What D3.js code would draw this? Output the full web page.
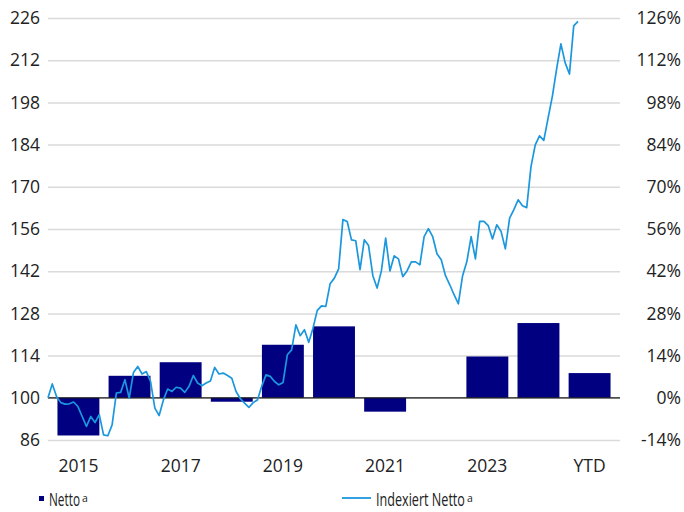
<!DOCTYPE html>
<html>
<head>
<meta charset="utf-8">
<script src="https://cdn.jsdelivr.net/npm/d3@7"></script>
<style>
  body { margin: 0; background: #fff; }
  svg { display: block; font-family: "Open Sans", sans-serif; }
</style>
</head>
<body>
<svg id="chart" width="684" height="512"></svg>
<script>
// yearly net return (%), right axis
const years = ["2015","2016","2017","2018","2019","2020","2021","2022","2023","2024","YTD"];
const nettoPct = [-12.5, 7.3, 11.8, -1.3, 17.6, 23.7, -4.6, 0, 13.7, 24.8, 8.2];
const tickYears = ["2015","2017","2019","2021","2023","YTD"];

// monthly indexed net value (start = 100), left axis
const indexiert = [
  100, 104.6, 100.4, 98.4, 97.9, 98, 98.6, 97.1, 93.8, 90.5, 93.8, 91.8,
  94.4, 87.7, 87.4, 91, 101.6, 101.8, 106, 99.9, 108.4, 110.4, 107.9, 108.7,
  105.4, 96.6, 94.1, 99.3, 102.9, 102.1, 103.5, 103.2, 101.8, 103.8, 107.4, 104.9,
  104, 104.9, 105.6, 110.1, 107.9, 108.2, 107.4, 106.5, 102.1, 99.7, 98.2, 96.8,
  98.4, 99.3, 103.8, 107.6, 107.1, 105.4, 104.3, 105.1, 114.3, 115.9, 124.2, 120.6,
  122.6, 118.4, 123.1, 129, 130.5, 130.3, 137.8, 139.7, 142.8, 159.1, 158.5, 152.4,
  152.1, 142.5, 152.4, 150.5, 140.5, 136.4, 142.1, 153, 142.1, 147.1, 146.1, 140.2,
  142.1, 145.1, 145.1, 144.1, 153.5, 156.1, 153.5, 147.8, 145.8, 140.5, 137.5, 134.2,
  131.2, 140.5, 145.2, 153.5, 146.1, 158.5, 158.5, 157.1, 152.7, 157.4, 155.2, 149.4,
  159.6, 162.4, 165.7, 163.7, 163.1, 176.7, 183.9, 186.9, 185.4, 192.8, 200, 209.1,
  217.4, 211.1, 207.4, 223.4, 224.9
];

const leftTicks = [86, 100, 114, 128, 142, 156, 170, 184, 198, 212, 226];
const rightTicks = [-14, 0, 14, 28, 42, 56, 70, 84, 98, 112, 126];

const svg = d3.select("#chart");
const plotL = 48, plotR = 620, plotT = 18, plotB = 440;
const fontSize = 17.5;

const yLeft = d3.scaleLinear().domain([86, 226]).range([plotB, plotT]);
const yRight = d3.scaleLinear().domain([-14, 126]).range([plotB, plotT]);

const xBand = d3.scaleBand()
  .domain(years)
  .range([plotL, plotR])
  .paddingInner(0.18)
  .paddingOuter(0.185);

const xLine = d3.scaleLinear()
  .domain([0, indexiert.length - 1])
  .range([plotL, 578]);

// gridlines
svg.append("g")
  .attr("transform", `translate(${plotL},0)`)
  .call(d3.axisLeft(yLeft).tickValues(leftTicks).tickSize(-(plotR - plotL)).tickFormat(""))
  .call(g => g.select(".domain").remove())
  .call(g => g.selectAll(".tick line").attr("stroke", "#dadada").attr("stroke-width", 1.5));

// bars
svg.append("g")
  .selectAll("rect")
  .data(years.map((y, i) => ({ year: y, v: nettoPct[i] })))
  .join("rect")
  .attr("x", d => xBand(d.year))
  .attr("width", xBand.bandwidth())
  .attr("y", d => yRight(Math.max(0, d.v)))
  .attr("height", d => Math.abs(yRight(d.v) - yRight(0)))
  .attr("fill", "#000080");

// zero line
svg.append("line")
  .attr("x1", plotL).attr("x2", plotR)
  .attr("y1", yRight(0)).attr("y2", yRight(0))
  .attr("stroke", "#1a1a1a").attr("stroke-width", 1.2);

// index line
svg.append("path")
  .datum(indexiert)
  .attr("fill", "none")
  .attr("stroke", "#1b97de")
  .attr("stroke-width", 1.7)
  .attr("stroke-linejoin", "round")
  .attr("d", d3.line().x((d, i) => xLine(i)).y(d => yLeft(d)));

// axis labels
const styleText = g => {
  g.select(".domain").remove();
  g.selectAll(".tick line").remove();
  g.selectAll("text")
    .attr("font-family", "Open Sans, sans-serif")
    .attr("font-size", fontSize)
    .attr("fill", "#222");
};

svg.append("g")
  .attr("transform", "translate(40,0)")
  .call(d3.axisLeft(yLeft).tickValues(leftTicks).tickSize(0).tickPadding(0))
  .call(styleText);

svg.append("g")
  .attr("transform", "translate(681,0)")
  .call(d3.axisLeft(yRight).tickValues(rightTicks).tickSize(0).tickPadding(0)
    .tickFormat(d => `${d}%`))
  .call(styleText);

svg.append("g")
  .attr("transform", "translate(0,466)")
  .call(d3.axisBottom(xBand).tickValues(tickYears).tickSize(0).tickPadding(0))
  .call(styleText)
  .call(g => g.selectAll("text").attr("y", 0).attr("dy", "0.36em"));

// legend (condensed text: squeeze horizontally to the target width)
const legend = svg.append("g").attr("fill", "#222");
function narrowText(x, y, str, width) {
  const t = legend.append("text").attr("font-size", 18).text(str);
  const w = t.node().getComputedTextLength();
  t.attr("transform", `translate(${x},${y}) scale(${width / w},1)`);
}
legend.append("rect")
  .attr("x", 39).attr("y", 496).attr("width", 5).attr("height", 5)
  .attr("fill", "#000080");
narrowText(49, 506, "Netto", 31);
legend.append("text").attr("x", 82).attr("y", 502)
  .attr("font-size", 10.5)
  .text("a");

legend.append("line")
  .attr("x1", 342).attr("x2", 371).attr("y1", 498).attr("y2", 498)
  .attr("stroke", "#1b97de").attr("stroke-width", 1.8);
narrowText(376, 506, "Indexiert Netto", 89);
legend.append("text").attr("x", 467).attr("y", 502)
  .attr("font-size", 10.5)
  .text("a");
</script>
</body>
</html>
